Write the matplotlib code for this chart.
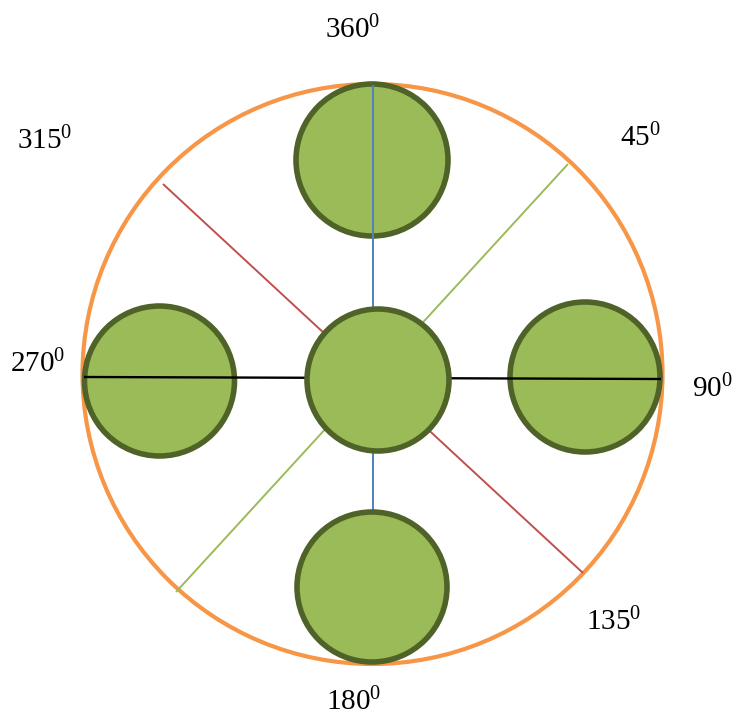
"""
Compass-style diagram: orange ring, five green discs and four spokes
"""

import matplotlib.pyplot as plt
from matplotlib.patches import Circle

plt.rcParams['font.family'] = ['Liberation Serif', 'DejaVu Serif']
plt.rcParams['mathtext.fontset'] = 'custom'
plt.rcParams['mathtext.rm'] = 'Liberation Serif'

# angle labels and where they sit (pixel space, y down)
labels = ['360', '45', '90', '135', '180', '270', '315']
label_x = [353, 640, 712, 614, 354, 38, 45]
label_y = [30, 138, 389, 622, 702, 364, 141]

# outer ring
ring_center = (372.5, 374)
ring_radius = 290

# green discs: top, left, right, bottom, centre
disc_x = [372, 159.5, 585, 372, 378]
disc_y = [160, 381, 377, 587, 380]
disc_r = [76, 75, 75, 75, 71]
disc_z = [1, 1, 1, 3, 3]

# spokes: (x0, y0, x1, y1, colour)
spoke_x0 = [373, 373, 84, 568, 163]
spoke_y0 = [85, 380, 377, 164, 184]
spoke_x1 = [373, 373, 661, 176, 583]
spoke_y1 = [380, 510, 379, 592, 573]
spoke_col = ['#4F81BD', '#4F81BD', 'black', '#9BBB59', '#C0504D']

fig = plt.figure(figsize=(7.33, 7.17), dpi=100)
ax = fig.add_axes([0, 0, 1, 1])
ax.set_xlim(0, 733)
ax.set_ylim(717, 0)
ax.axis('off')

ax.add_patch(Circle(ring_center, ring_radius, fill=False,
                    edgecolor='#F79646', linewidth=3.0, zorder=0))

for x, y, r, z in zip(disc_x, disc_y, disc_r, disc_z):
	ax.add_patch(Circle((x, y), r, facecolor='#9BBB59',
	                    edgecolor='#4F6228', linewidth=4.0, zorder=z))

for x0, y0, x1, y1, c in zip(spoke_x0, spoke_y0, spoke_x1, spoke_y1, spoke_col):
	ax.plot([x0, x1], [y0, y1], color=c, linewidth=1.4 if c != 'black' else 1.7,
	        zorder=2, solid_capstyle='butt')

for t, x, y in zip(labels, label_x, label_y):
	ax.text(x, y, r'$\mathregular{' + t + '^0}$', fontsize=21,
	        ha='center', va='center')

fig.savefig('out.png', dpi=100)
